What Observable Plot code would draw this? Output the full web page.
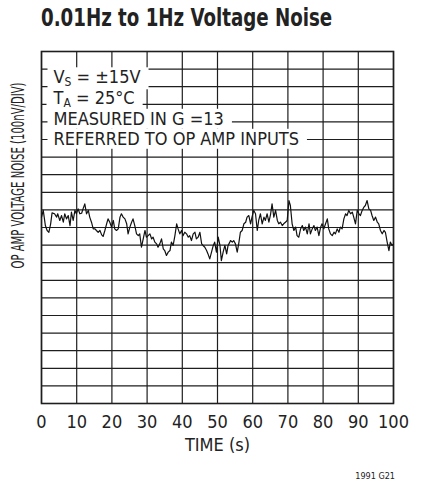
<!DOCTYPE html>
<html><head><meta charset="utf-8">
<script src="https://cdn.jsdelivr.net/npm/d3@7"></script>
<script src="https://cdn.jsdelivr.net/npm/@observablehq/plot@0.6"></script>
<style>
html,body{margin:0;padding:0;background:#fff;}
#wrap{position:relative;width:423px;height:483px;overflow:hidden;font-family:"DejaVu Sans Condensed","DejaVu Sans",sans-serif;color:#222;}
#title{position:absolute;left:41px;top:6px;font-weight:bold;font-size:24px;line-height:24px;white-space:nowrap;transform-origin:0 0;}
#chart{position:absolute;left:0;top:40px;}
#code{position:absolute;right:28px;top:472px;font-size:9px;line-height:9px;}
</style></head><body>
<div id="wrap"><div id="title">0.01Hz to 1Hz Voltage Noise</div><div id="chart"></div><div id="code">1991 G21</div></div>
<script>
const times = [0,0.5,1.1,1.6,2.1,2.6,3.0,3.7,4.3,4.6,5.2,5.7,6.2,6.6,7.1,7.6,8.1,8.5,9.0,9.5,9.9,10.4,10.9,11.4,11.8,12.3,12.8,13.3,13.7,14.2,14.7,15.2,15.6,16.1,16.6,17.1,17.5,18.0,18.5,18.9,19.4,19.9,20.4,20.8,21.3,21.8,22.3,22.7,23.2,23.7,24.2,24.6,25.1,25.6,26.0,26.5,27.0,27.5,27.9,28.4,28.9,29.4,29.8,30.3,30.8,31.3,31.7,32.2,32.7,33.1,33.6,34.1,34.6,35.0,35.5,36.0,36.5,36.9,37.4,37.9,38.4,38.8,39.3,39.8,40.2,40.7,41.2,41.7,42.1,42.6,43.1,43.6,44.0,44.5,45.0,45.5,45.9,46.4,46.9,47.3,47.8,48.3,48.8,49.2,49.7,50.2,50.7,51.1,51.6,52.1,52.6,53.0,53.5,
53.7,54.2,54.6,55.1,55.6,56.1,56.5,57.0,57.5,58.0,58.4,58.9,59.4,59.8,60.3,60.8,61.3,61.7,62.2,62.7,63.2,63.6,64.1,64.6,65.1,65.5,66.0,66.5,67.0,67.4,67.9,68.4,68.8,69.3,69.8,70.3,70.7,71.2,71.7,72.2,72.6,73.1,73.6,74.1,74.5,75.0,75.5,76.0,76.4,76.9,77.4,77.8,78.3,78.8,79.3,79.7,80.2,80.7,81.2,81.6,82.1,82.6,83.1,83.5,84.0,84.5,84.9,85.4,85.9,86.4,86.8,87.3,87.8,88.3,88.7,89.2,89.7,90.2,90.6,91.1,91.6,92.0,92.5,93.0,93.5,93.9,94.4,94.9,95.4,95.8,96.3,96.8,97.3,97.7,98.2,98.7,99.1,99.6,100];
// noise in nV (100nV per division)
const noise = [59,97,11,-17,-27,21,83,78,59,78,40,68,30,78,49,68,11,87,40,97,78,106,78,81,106,134,78,97,59,30,-8,-8,-17,-27,-17,-42,-51,-17,21,49,30,2,40,-8,-17,-8,59,78,59,49,21,-36,2,30,49,11,-36,-46,-36,-112,-65,-17,-55,-46,-36,-65,-55,-83,-93,-112,-93,-65,-121,-131,-159,-140,-131,-83,-102,-46,21,-8,-36,-17,-46,-27,-36,-55,-46,-74,-36,-27,-65,-55,-27,-93,-102,-112,-131,-150,-178,-140,-102,-83,-140,-55,-102,-188,-140,-102,-150,-102,-83,
-74,-83,-74,-93,-140,-83,-27,-17,21,30,59,68,21,59,97,78,-17,40,78,21,59,40,78,30,78,134,59,97,40,21,30,11,21,30,40,153,125,21,-17,2,-46,-55,-8,11,-17,2,-36,21,-36,-8,11,-17,2,-46,2,21,-8,21,49,-8,-36,-46,-27,-36,-8,-27,2,-8,49,78,68,97,78,87,59,21,97,78,68,97,116,125,153,106,97,68,40,59,30,21,-17,-36,-17,-27,-83,-131,-83,-102,-93];
const xTicks = [0,10,20,30,40,50,60,70,80,90,100];
const yGrid = [-1000,-900,-800,-700,-600,-500,-400,-300,-200,-100,0,100,200,300,400,500,600,700,800,900,1000];
const notes = ["V_S = ±15V","T_A = 25°C","MEASURED IN G =13","REFERRED TO OP AMP INPUTS"];
const xLabel = "TIME (s)";
const yLabel = "OP AMP VOLTAGE NOISE (100nV/DIV)";

const data = times.map((t,i)=>({t, v: noise[i]}));
const font = '"DejaVu Sans Condensed","DejaVu Sans",sans-serif';
const noteDy = [19, 40, 60.5, 80.5];

// condense the title to the reference width
const title = document.getElementById("title");
title.style.transform = `scaleX(${291 / title.offsetWidth})`;

const chart = Plot.plot({
  width: 423, height: 420,
  marginTop: 11, marginBottom: 57, marginLeft: 41, marginRight: 30,
  style: {fontFamily: font, color: "#222", background: "white"},
  x: {domain: [0,100]},
  y: {domain: [-1000,1000], axis: null},
  marks: [
    Plot.ruleX(xTicks, {stroke: "#1e1e1e", strokeWidth: 1.2}),
    Plot.ruleY(yGrid, {stroke: "#1e1e1e", strokeWidth: 1.2}),
    Plot.frame({stroke: "#1e1e1e", strokeWidth: 1.6}),
    Plot.line(data, {x: "t", y: "v", stroke: "#111", strokeWidth: 1.2}),
    Plot.axisX({ticks: xTicks, tickSize: 0, tickPadding: 12, fontSize: 18, label: xLabel, labelAnchor: "center", labelArrow: "none", labelOffset: 47}),
    ...notes.map((n,i)=>Plot.text([n], {frameAnchor: "top-left", text: d=>d, textAnchor: "start", dx: 12, dy: noteDy[i], fontSize: 18})),
    Plot.text([yLabel], {frameAnchor: "top-left", text: d=>d, rotate: -90, textAnchor: "end", dx: -30, dy: 31, fontSize: 18})
  ]
});
document.getElementById("chart").append(chart);

const ns = "http://www.w3.org/2000/svg";
const svgBox = chart.getBoundingClientRect();
let firstNoteG = null;
const rects = [];
chart.querySelectorAll("text").forEach(t => {
  const s = t.textContent;
  if (s === yLabel) {
    t.setAttribute("textLength", 186);
    t.setAttribute("lengthAdjust", "spacingAndGlyphs");
  }
  if (notes.includes(s)) {
    if (!firstNoteG) firstNoteG = t.closest("g");
    const m = s.match(/^(\w)_(\w)(.*)$/);
    if (m) {
      t.textContent = "";
      const a = document.createElementNS(ns, "tspan"); a.textContent = m[1];
      const b = document.createElementNS(ns, "tspan"); b.textContent = m[2]; b.setAttribute("dy", 3); b.setAttribute("font-size", 12);
      const c = document.createElementNS(ns, "tspan"); c.textContent = m[3]; c.setAttribute("dy", -3);
      t.append(a, b, c);
    }
    const r = t.getBoundingClientRect();
    rects.push({x: r.left - svgBox.left - 6, y: r.top - svgBox.top + 1, w: r.width + 14, h: r.height - 1});
  }
});
if (firstNoteG) {
  const g = document.createElementNS(ns, "g");
  rects.forEach(b => {
    const r = document.createElementNS(ns, "rect");
    r.setAttribute("x", b.x); r.setAttribute("y", b.y);
    r.setAttribute("width", b.w); r.setAttribute("height", b.h);
    r.setAttribute("fill", "white");
    g.append(r);
  });
  firstNoteG.parentNode.insertBefore(g, firstNoteG);
}
</script>
</body></html>
